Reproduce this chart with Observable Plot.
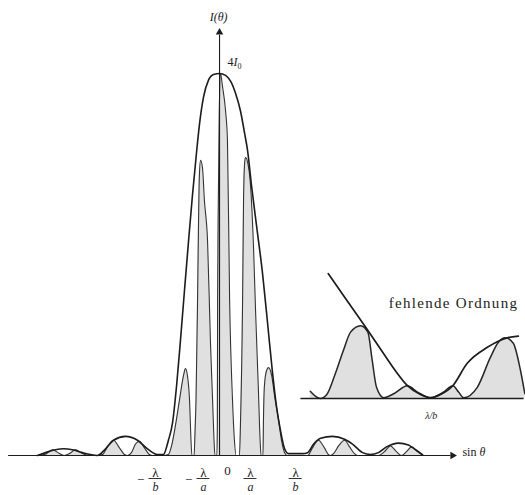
<!DOCTYPE html>
<html><head><meta charset="utf-8">
<script src="https://cdn.jsdelivr.net/npm/d3@7"></script>
<script src="https://cdn.jsdelivr.net/npm/@observablehq/plot@0.6"></script>
<style>
body{margin:0;background:#fff;}
#wrap{position:relative;width:525px;height:495px;overflow:hidden;}
#wrap svg{position:absolute;}
</style></head><body><div id="wrap"></div>
<script>
// x in units of λ/a (0 = centre), y in units of I0 (peak = 4 I0)
const envelope = [[-7.63,0],[-7.29,0.03],[-6.88,0.06],[-6.54,0.07],[-6.17,0.06],[-5.75,0.03],[-5.42,0.01],[-5.13,0],[-4.79,0.07],[-4.46,0.16],[-3.96,0.2],[-3.46,0.16],[-3.04,0.07],[-2.63,0.01],[-2.38,0.01],[-2.17,0.16],[-2.0,0.34],[-1.83,0.73],[-1.67,1.2],[-1.5,1.73],[-1.33,2.25],[-1.17,2.72],[-1.0,3.17],[-0.88,3.46],[-0.71,3.75],[-0.5,3.93],[-0.29,3.99],[-0.04,4.0],[0.21,3.98],[0.42,3.92],[0.63,3.79],[0.83,3.61],[1.0,3.38],[1.13,3.19],[1.29,2.83],[1.5,2.41],[1.75,1.91],[1.96,1.39],[2.17,0.86],[2.33,0.52],[2.5,0.26],[2.67,0.07],[2.83,0.02],[3.13,0.02],[3.42,0.02],[3.63,0.03],[3.88,0.12],[4.17,0.18],[4.67,0.2],[5.17,0.17],[5.5,0.12],[5.92,0.03],[6.25,0.01],[6.58,0.03],[6.92,0.09],[7.42,0.13],[7.83,0.11],[8.13,0.06],[8.42,0.01]];
const fringes = [[-7.63,0],[-7.33,0.01],[-7.0,0.06],[-6.71,0.02],[-6.5,0],[-6.29,0.02],[-6.04,0.06],[-5.75,0.02],[-5.5,0],
[-5.13,0],[-4.92,0.01],[-4.71,0.09],[-4.46,0.16],[-4.21,0.08],[-4.0,0.01],[-3.88,0],[-3.71,0.03],[-3.54,0.12],[-3.38,0.15],[-3.17,0.08],[-2.96,0.01],[-2.83,0],
[-2.38,0],[-2.17,0.01],[-2.04,0.1],[-1.88,0.31],[-1.71,0.58],[-1.54,0.84],[-1.46,0.91],[-1.38,0.84],[-1.29,0.58],[-1.23,0.16],[-1.19,0],
[-1.10,0],[-1.06,0.26],[-1.02,0.58],[-0.96,1.55],[-0.92,2.36],[-0.88,2.93],[-0.83,3.09],[-0.75,3.01],[-0.67,2.67],[-0.54,2.25],[-0.42,1.20],[-0.33,0.58],[-0.27,0.16],[-0.23,0],
[-0.15,0],[-0.13,0.37],[-0.12,1.62],[-0.09,2.67],[-0.05,3.61],[0,4.0],[0.08,3.87],[0.21,3.61],[0.29,3.30],[0.38,1.62],[0.5,0.58],[0.58,0.16],[0.65,0],
[0.79,0],[0.83,0.31],[0.92,1.62],[0.96,2.67],[1.0,3.04],[1.04,3.12],[1.13,3.07],[1.25,2.83],[1.38,2.15],[1.46,1.52],[1.58,0.68],[1.65,0.16],[1.69,0],
[1.77,0],[1.79,0.37],[1.83,0.73],[1.92,0.89],[2.0,0.92],[2.13,0.84],[2.25,0.63],[2.42,0.37],[2.54,0.16],[2.67,0.03],[2.79,0],
[3.33,0],[3.63,0],[3.83,0.08],[4.08,0.16],[4.33,0.08],[4.5,0.01],[4.58,0],[4.71,0.02],[4.92,0.10],[5.17,0.16],[5.38,0.09],[5.58,0.02],[5.71,0],
[6.58,0],[6.83,0.04],[7.08,0.10],[7.33,0.04],[7.54,0],[7.75,0.04],[7.96,0.09],[8.17,0.05],[8.42,0]];
const tickX = [-2.71,-0.71,0.29,1.25,3.13];
const tickNum = ["λ","λ","0","λ","λ"];
const tickDen = ["b","a","","a","b"];
const minusX = [-3.33,-1.33];
// inset (magnified around λ/b, the missing order)
const insetEnvelope = [[1.58,1.56],[1.82,1.25],[2.10,0.89],[2.35,0.56],[2.51,0.35],[2.68,0.16],[2.86,0.05],[3.0,0.01],[3.14,0.05],[3.31,0.16],[3.51,0.44],[3.79,0.64],[4.07,0.76],[4.22,0.78]];
const insetFringes = [[1.33,0.09],[1.40,0.03],[1.47,0],[1.56,0.05],[1.67,0.29],[1.79,0.6],[1.89,0.83],[2.03,0.91],[2.13,0.83],[2.19,0.48],[2.25,0.14],[2.35,0.01],[2.49,0.06],[2.68,0.16],[2.82,0.08],[3.0,0.01],[3.18,0.08],[3.31,0.16],[3.39,0.08],[3.46,0.01],[3.65,0.14],[3.83,0.51],[3.94,0.7],[4.04,0.76],[4.15,0.69],[4.25,0.35],[4.31,0.06]];
const labels = {yAxis:"I(θ)", peak:"4I₀", xAxis:"sin θ", missing:"fehlende Ordnung", insetTick:"λ/b"};

const serif = "'Liberation Serif','DejaVu Serif',serif";
const ink = "#1c1c1c", fillGray = "#e0e0e0";
const X = d => d[0], Y = d => d[1];

const main = Plot.plot({
  width:525, height:495, marginLeft:4, marginRight:5, marginTop:6.15, marginBottom:1.8,
  x:{domain:[-9,12.5], axis:null}, y:{domain:[-0.4,4.7], axis:null},
  style:{background:"transparent", fontFamily:serif, color:ink},
  marks:[
    Plot.areaY(fringes,{x:X, y:Y, fill:fillGray, curve:"monotone-x"}),
    Plot.line(fringes,{x:X, y:Y, stroke:"#333", strokeWidth:1.1, curve:"monotone-x"}),
    Plot.line(envelope,{x:X, y:Y, stroke:ink, strokeWidth:1.6, curve:"monotone-x"}),
    Plot.ruleY([0],{x1:-8.83, x2:9.6, stroke:ink, strokeWidth:1.2}),
    Plot.dot([0],{x:9.67, y:0, symbol:"triangle", rotate:90, r:2.8, fill:ink, stroke:"none"}),
    Plot.ruleX([0],{x:-0.04, y1:0, y2:4.4, stroke:ink, strokeWidth:1.1}),
    Plot.dot([0],{x:-0.04, y:4.43, symbol:"triangle", r:2.8, fill:ink, stroke:"none"}),
    Plot.text([labels.yAxis],{x:-0.08, y:4.59, fontSize:12, fontStyle:"italic", fill:ink}),
    Plot.text([labels.peak],{x:0.29, y:4.12, fontSize:12, textAnchor:"start", fill:ink}),
    Plot.text([labels.xAxis],{x:10.08, y:0.03, fontSize:12, textAnchor:"start", fill:ink}),
    Plot.text(tickX,{x:d=>d, y:(d,i)=>tickDen[i] ? -0.178 : -0.157, text:(d,i)=>tickNum[i], fontSize:13, fontStyle:(d,i)=>tickDen[i]?"italic":"normal", fill:ink}),
    Plot.text(tickX.filter((d,i)=>tickDen[i]),{x:d=>d, y:-0.335, text:d=>tickDen[tickX.indexOf(d)], fontSize:12, fontStyle:"italic", fill:ink}),
    Plot.ruleY(tickX.filter((d,i)=>tickDen[i]),{y:-0.241, x1:d=>d-0.27, x2:d=>d+0.27, stroke:ink, strokeWidth:0.9}),
    Plot.text(minusX,{x:d=>d, y:-0.25, text:()=>"−", fontSize:13, fill:ink})
  ]
});
main.style.left="0px"; main.style.top="0px";

const inset = Plot.plot({
  width:225, height:175, marginLeft:0.4, marginRight:1.4, marginTop:10, marginBottom:9,
  x:{domain:[1.2,4.3], axis:null}, y:{domain:[-0.35,1.6], axis:null},
  style:{background:"transparent", overflow:"visible", fontFamily:serif, color:ink},
  marks:[
    Plot.areaY(insetFringes,{x:X, y:Y, fill:fillGray, curve:"monotone-x"}),
    Plot.line(insetFringes,{x:X, y:Y, stroke:"#262626", strokeWidth:1.5, curve:"monotone-x"}),
    Plot.line(insetEnvelope,{x:X, y:Y, stroke:ink, strokeWidth:1.7, curve:"monotone-x"}),
    Plot.ruleY([0],{stroke:ink, strokeWidth:1.5}),
    Plot.text([labels.missing],{x:2.42, y:1.19, fontSize:15, textAnchor:"start", fill:ink}),
    Plot.text([labels.insetTick],{x:3.01, y:-0.21, fontSize:10, fontStyle:"italic", fill:ink})
  ]
});
inset.style.left="300px"; inset.style.top="260px";

const wrap = document.getElementById("wrap");
wrap.appendChild(main); wrap.appendChild(inset);
main.querySelectorAll("text").forEach(t=>{
  if (t.textContent === labels.xAxis) t.innerHTML = 'sin <tspan font-style="italic">θ</tspan>';
  if (t.textContent === labels.peak) t.innerHTML = '4<tspan font-style="italic">I</tspan><tspan font-size="8" dy="3">0</tspan>';
});
inset.querySelectorAll("text").forEach(t=>{
  if (t.textContent === labels.missing) t.setAttribute("letter-spacing","1.3");
});
</script></body></html>
